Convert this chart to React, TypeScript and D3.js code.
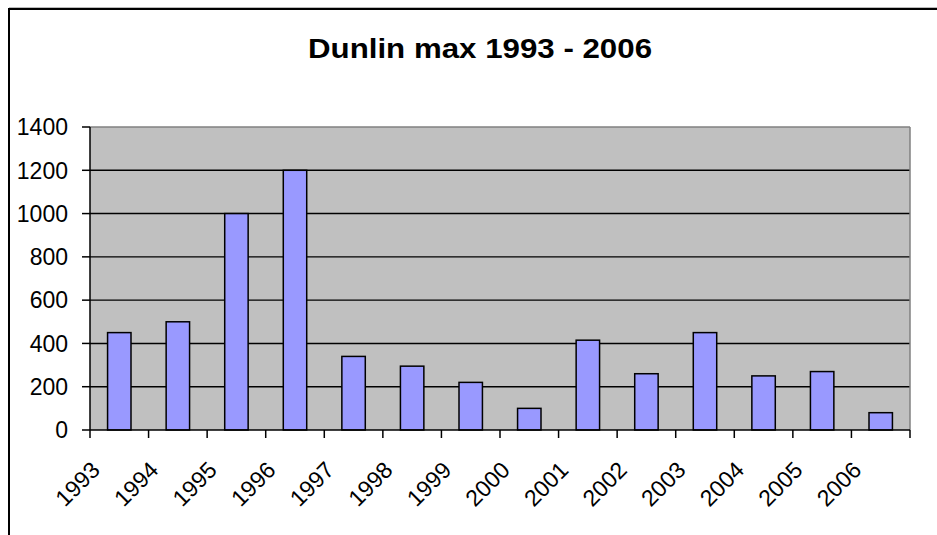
import React from "react";
import * as d3 from "d3";

const years = ["1993","1994","1995","1996","1997","1998","1999","2000","2001","2002","2003","2004","2005","2006"];
const values = [450, 500, 1000, 1200, 340, 295, 220, 100, 415, 260, 450, 250, 270, 80];
const yTicks = [0, 200, 400, 600, 800, 1000, 1200, 1400];
const title = "Dunlin max 1993 - 2006";

const W = 937, H = 535;
const plot = { left: 90, right: 910, top: 127, bottom: 430 };
const font = "Arial, 'Liberation Sans', sans-serif";

export default function App() {
  const x = d3.scaleBand<string>().domain(years).range([plot.left, plot.right]).padding(0);
  const xb = d3.scaleBand<string>().domain(years).range([plot.left, plot.right]).paddingInner(0.6).paddingOuter(0.3);
  const y = d3.scaleLinear().domain([0, 1400]).range([plot.bottom, plot.top]);
  const step = x.step();
  const boundaries = d3.range(years.length + 1).map((i) => plot.left + i * step);

  return (
    <svg width={W} height={H} style={{ position: "absolute", left: 0, top: 0, background: "#fff" }}>
      {/* outer chart border */}
      <line x1={9} y1={7.5} x2={W} y2={7.5} stroke="#bbb" strokeWidth={1} />
      <rect x={9} y={9} width={W + 50} height={H + 50} fill="none" stroke="#000" strokeWidth={2} />
      {/* title */}
      <g transform="translate(480,58) scale(1.117,1)">
        <text x={0} y={0} textAnchor="middle" fontFamily={font} fontWeight="bold" fontSize={28} fill="#000">{title}</text>
      </g>
      {/* plot background */}
      <rect x={plot.left} y={plot.top} width={plot.right - plot.left} height={plot.bottom - plot.top} fill="#C0C0C0" />
      {/* gridlines */}
      {yTicks.filter((t) => t > 0 && t < 1400).map((t) => (
        <line key={t} x1={plot.left} x2={plot.right} y1={y(t)} y2={y(t)} stroke="#000" strokeWidth={1.4} />
      ))}
      {/* plot border top/right */}
      <line x1={plot.left} x2={plot.right} y1={plot.top} y2={plot.top} stroke="#808080" strokeWidth={1.5} />
      <line x1={plot.right} x2={plot.right} y1={plot.top} y2={plot.bottom} stroke="#808080" strokeWidth={1.5} />
      {/* bars */}
      {years.map((yr, i) => (
        <rect key={yr} x={xb(yr)!} y={y(values[i])} width={xb.bandwidth()} height={y(0) - y(values[i])}
          fill="#9999FF" stroke="#000" strokeWidth={1.5} />
      ))}
      {/* y axis */}
      <line x1={plot.left} x2={plot.left} y1={plot.top} y2={plot.bottom} stroke="#000" strokeWidth={1.5} />
      {yTicks.map((t) => (
        <g key={t}>
          <line x1={plot.left - 8} x2={plot.left} y1={y(t)} y2={y(t)} stroke="#000" strokeWidth={1.5} />
          <text x={68} y={y(t)} dy="0.36em" textAnchor="end" fontFamily={font} fontSize={23} fill="#000">{t}</text>
        </g>
      ))}
      {/* x axis */}
      <line x1={plot.left} x2={plot.right} y1={plot.bottom} y2={plot.bottom} stroke="#000" strokeWidth={1.5} />
      {boundaries.map((bx, i) => (
        <line key={i} x1={bx} x2={bx} y1={plot.bottom} y2={plot.bottom + 8} stroke="#000" strokeWidth={1.5} />
      ))}
      {years.map((yr) => {
        const cx = x(yr)! + step / 2 - 18;
        const cy = 471.5;
        return (
          <text key={yr} x={cx} y={cy} textAnchor="end" fontFamily={font} fontSize={23} fill="#000"
            transform={`rotate(-45 ${cx} ${cy})`}>{yr}</text>
        );
      })}
    </svg>
  );
}
